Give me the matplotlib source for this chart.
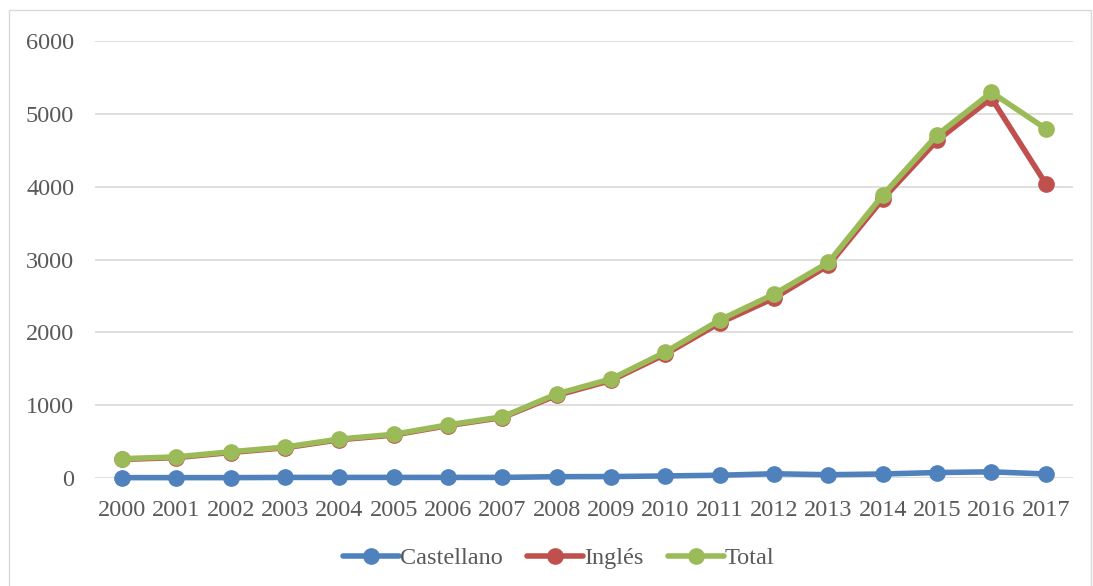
import matplotlib.pyplot as plt
from matplotlib.patches import Rectangle

# datos
anios = list(range(2000, 2018))
castellano = [5, 5, 5, 8, 8, 8, 8, 8, 18, 20, 28, 38, 58, 45, 55, 75, 85, 55]
ingles = [255, 280, 350, 415, 525, 590, 720, 830, 1135, 1340, 1700, 2130,
          2470, 2920, 3830, 4635, 5215, 4040]
total = [265, 290, 360, 425, 535, 600, 730, 840, 1155, 1360, 1730, 2170,
         2525, 2960, 3885, 4710, 5295, 4795]

plt.rcParams['font.family'] = ['Liberation Serif', 'DejaVu Serif']

fig = plt.figure(figsize=(10.93, 5.86), dpi=100)
ax = fig.add_axes([0.0869, 0.1843, 0.8948, 0.7457])

# marco exterior del grafico
fig.patches.append(Rectangle((0.008, -0.01), 0.99, 0.993, transform=fig.transFigure,
                             fill=False, edgecolor='#D9D9D9', linewidth=1))

x = list(range(len(anios)))
series = [('Castellano', castellano, '#4F81BD'),
          ('Inglés', ingles, '#C0504D'),
          ('Total', total, '#9BBB59')]
for nombre, valores, color in series:
    ax.plot(x, valores, color=color, linewidth=4, marker='o', markersize=11,
            label=nombre, solid_capstyle='round', clip_on=False, zorder=3)

ax.set_xlim(-0.5, len(anios) - 0.5)
ax.set_ylim(0, 6000)
ax.set_yticks(range(0, 6001, 1000))
ax.set_xticks(x)
ax.set_xticklabels([str(a) for a in anios])
ax.grid(axis='y', color='#D9D9D9', linewidth=1.2)
ax.set_axisbelow(True)
for s in ax.spines.values():
    s.set_visible(False)
ax.tick_params(length=0, labelsize=17.5, colors='#595959', pad=16)
ax.tick_params(axis='y', pad=15)

leg = fig.legend(loc='center', bbox_to_anchor=(0.511, 0.047), ncol=3, frameon=False,
                 fontsize=17.5, handlelength=2.3, columnspacing=1.0, handletextpad=0.05)
for t in leg.get_texts():
    t.set_color('#595959')

plt.savefig('out.png', dpi=100)
